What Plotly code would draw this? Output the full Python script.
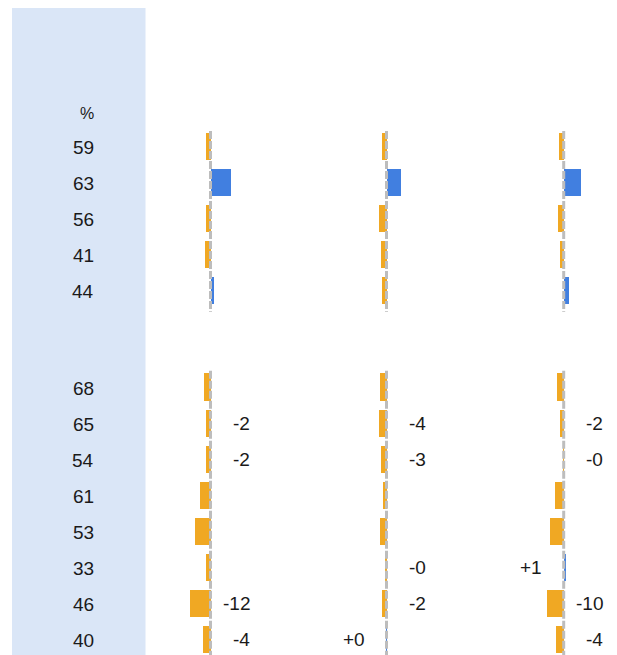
import plotly.graph_objects as go

# ---------------- data ----------------
pct_header = "%"
pct_top = [59, 63, 56, 41, 44]
pct_bottom = [68, 65, 54, 61, 53, 33, 46, 40]

p1_top = [-2.7, 12.5, -2.7, -3.4, 2.1]
p1_bottom = [-4.0, -2.45, -2.45, -6.4, -9.5, -2.6, -12.45, -4.45]
p1_show = [0, 1, 1, 0, 0, 0, 1, 1]

p2_top = [-2.7, 8.8, -4.6, -3.4, -2.7]
p2_bottom = [-4.0, -4.45, -3.45, -2.1, -4.0, -0.49, -2.45, 0.3]
p2_show = [0, 1, 1, 0, 0, 1, 1, 1]

p3_top = [-2.9, 10.5, -3.5, -2.3, 3.2]
p3_bottom = [-4.1, -2.45, -0.3, -5.3, -8.4, 1.49, -10.45, -4.45]
p3_show = [0, 1, 1, 0, 0, 1, 1, 1]

# ---------------- layout parameters ----------------
WIN_W, WIN_H = 617, 655
OFF = 8                      # page body margin
W, H = WIN_W - OFF, WIN_H - OFF
ORANGE = "#F0A823"
BLUE = "#417FE0"
COLBG = "#DAE6F7"
TXT = "#1a1a1a"
FONT = "Liberation Sans, Arial, sans-serif"

row_px = 36.1
first_row_px = 146.5 - OFF
gap_rows = 2.662
px_per_unit = 1.64

top_pos = list(range(len(pct_top)))
bot_start = top_pos[-1] + gap_rows
bot_pos = [bot_start + i for i in range(len(pct_bottom))]

y_min = -first_row_px / row_px
y_max = y_min + H / row_px

panels = [
    dict(vals=p1_top + p1_bottom, show=[0] * 5 + p1_show, zero=210.5, left=150, right=330),
    dict(vals=p2_top + p2_bottom, show=[0] * 5 + p2_show, zero=386.5, left=330, right=505),
    dict(vals=p3_top + p3_bottom, show=[0] * 5 + p3_show, zero=563.7, left=505, right=617),
]
positions = top_pos + bot_pos

fig = go.Figure()
annotations = []
shapes = []

# left column background
shapes.append(dict(type="rect", xref="paper", yref="paper",
                   x0=(12 - OFF) / W, x1=(145.5 - OFF) / W, y0=0, y1=1.0,
                   fillcolor=COLBG, line=dict(width=0), layer="below"))

for i, p in enumerate(panels):
    xa = "x" if i == 0 else f"x{i + 1}"
    colors = [BLUE if v > 0 else ORANGE for v in p["vals"]]
    fig.add_trace(go.Bar(
        x=p["vals"], y=positions, orientation="h",
        marker=dict(color=colors, line=dict(width=0)),
        width=0.75, xaxis=xa, yaxis="y", showlegend=False,
        hoverinfo="skip",
    ))
    for y0, y1 in [(top_pos[0] - 0.43, top_pos[-1] + 0.58),
                   (bot_pos[0] - 0.45, bot_pos[-1] + 0.6)]:
        shapes.append(dict(type="line", xref=xa, yref="y", x0=0, x1=0,
                           y0=y0, y1=y1, layer="above",
                           line=dict(color="#BDBDBD", width=3, dash="8px,2px")))
    for v, s, yp in zip(p["vals"], p["show"], positions):
        if not s:
            continue
        annotations.append(dict(
            x=0, y=yp, xref=xa, yref="y", text=f"{v:+.0f}",
            showarrow=False, xanchor="right", yanchor="middle",
            xshift=41 if v < 0 else -20,
            font=dict(family=FONT, size=19, color=TXT)))

# left column texts
annotations.append(dict(x=96 - OFF, y=-0.91, xref="x4", yref="y", text=pct_header,
                        showarrow=False, xanchor="right", yanchor="middle",
                        font=dict(family=FONT, size=16, color=TXT)))
for v, yp in zip(pct_top + pct_bottom, positions):
    annotations.append(dict(x=96 - OFF, y=yp + 0.03, xref="x4", yref="y", text=str(v),
                            showarrow=False, xanchor="right", yanchor="middle",
                            font=dict(family=FONT, size=19, color=TXT)))

axis_common = dict(showgrid=False, zeroline=False, showticklabels=False,
                   showline=False, ticks="", fixedrange=True)
layout_axes = {}
for i, p in enumerate(panels):
    key = "xaxis" if i == 0 else f"xaxis{i + 1}"
    layout_axes[key] = dict(
        domain=[(p["left"] - OFF) / W, (p["right"] - OFF) / W],
        range=[(p["left"] - p["zero"]) / px_per_unit, (p["right"] - p["zero"]) / px_per_unit],
        anchor="y", **axis_common)
layout_axes["xaxis4"] = dict(domain=[0, (150 - OFF) / W], range=[0, 150 - OFF],
                             anchor="y", **axis_common)

fig.update_layout(
    width=W, height=H,
    margin=dict(l=0, r=0, t=0, b=0),
    paper_bgcolor="white", plot_bgcolor="rgba(0,0,0,0)",
    yaxis=dict(range=[y_max, y_min], domain=[0, 1], **axis_common),
    shapes=shapes, annotations=annotations,
    barmode="overlay", bargap=0,
    **layout_axes,
)

fig.write_html("out.html")
